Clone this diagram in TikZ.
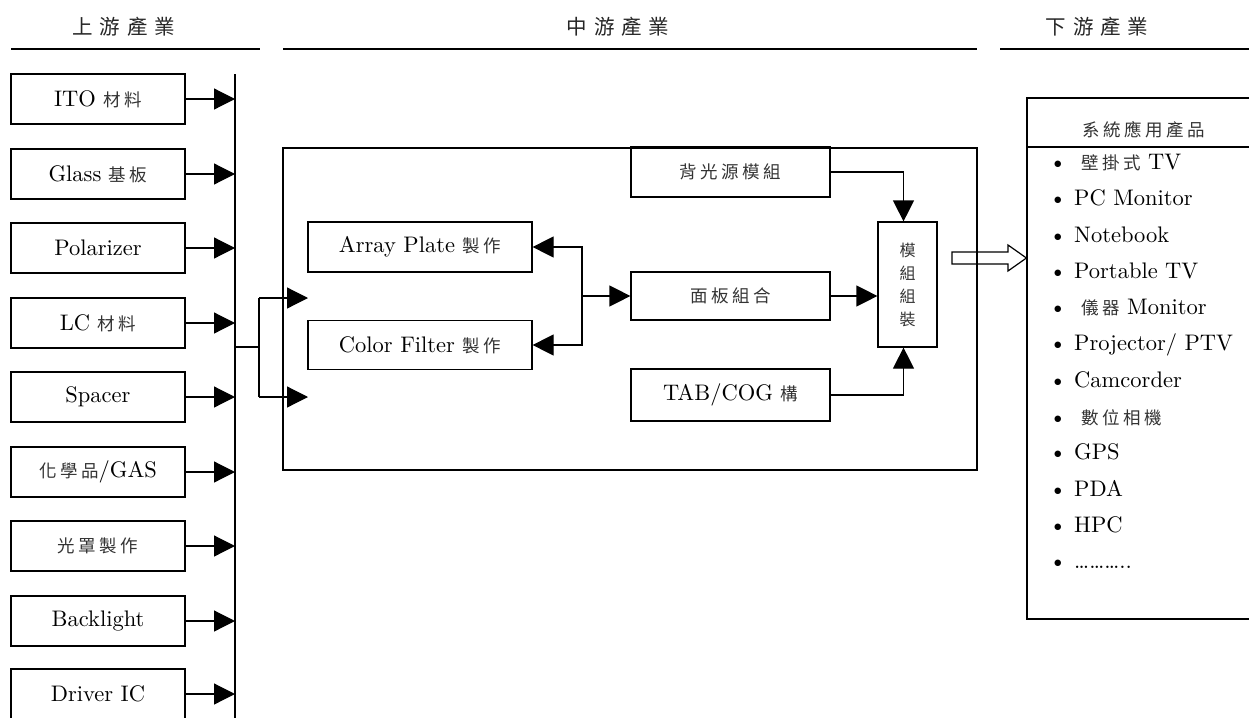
\documentclass[tikz,border=0pt]{standalone}
\usepackage{fontspec}
\usetikzlibrary{arrows.meta}
\setmainfont{lmroman10-regular}[Extension=.otf, BoldFont=lmroman10-bold, ItalicFont=lmroman10-italic]
\newfontfamily\cjk[LetterSpace=20]{Noto Sans CJK TC}
\newfontfamily\cjkhd[LetterSpace=34]{Noto Sans CJK TC}
\newcommand{\zh}[1]{{\cjk\fontsize{17.5}{21}\selectfont\color{black!80}#1}}
\newcommand{\zhhd}[1]{{\cjkhd\fontsize{20.5}{24}\selectfont\color{black!85}#1}}
\tikzset{
  base/.style={line width=1.2pt},
  box/.style={base, draw, inner sep=0pt, align=center,
    font=\fontsize{22.5}{26}\selectfont},
  lbox/.style={box, minimum width=174pt, minimum height=50pt},
  mbox/.style={box, minimum width=199pt, minimum height=50pt},
  hdr/.style={inner sep=0pt},
  item/.style={inner sep=0pt, anchor=mid west, font=\fontsize{22.5}{26}\selectfont},
  arr/.style={base, -{Triangle[length=21pt,width=21pt]}},
}
\begin{document}
\begin{tikzpicture}[x=1pt,y=-1pt]
\useasboundingbox (0,0) rectangle (1249,717);

% section headings and rules
\node[hdr] (h1) at (124,27) {\zhhd{上游產業}};
\node[hdr] (h2) at (618,27) {\zhhd{中游產業}};
\node[hdr] (h3) at (1097,27) {\zhhd{下游產業}};
\draw[base] (11,49) -- (260,49);
\draw[base] (283,49) -- (977,49);
\draw[base] (1000,49) -- (1249,49);

% upstream materials
\node[lbox] (u1) at (98,99)  {ITO \zh{材料}};
\node[lbox] (u2) at (98,174) {Glass \zh{基板}};
\node[lbox] (u3) at (98,248) {Polarizer};
\node[lbox] (u4) at (98,323) {LC \zh{材料}};
\node[lbox] (u5) at (98,397) {Spacer};
\node[lbox] (u6) at (98,472) {\zh{化學品}/GAS};
\node[lbox] (u7) at (98,546) {\zh{光罩製作}};
\node[lbox] (u8) at (98,621) {Backlight};
\node[lbox] (u9) at (98,694) {Driver IC};

% collecting bus
\coordinate (bt) at (235,74);
\coordinate (bb) at (235,720);
\draw[base] (bt) -- (bb);
\foreach \i in {1,...,9} {
  \draw[arr] (u\i.east) -- (u\i.east -| bt);
}

% midstream frame
\node[box, minimum width=694pt, minimum height=322pt] (mid) at (630,309) {};

% split from the bus into the frame
\coordinate (j0) at (235,347);
\coordinate (j1) at (259,298);
\coordinate (j2) at (259,397);
\coordinate (t1) at (308,298);
\coordinate (t2) at (308,397);
\draw[base] (j0) -- (j0 -| j1);
\draw[base] (j1) -- (j2);
\draw[arr] (j1) -- (t1);
\draw[arr] (j2) -- (t2);

% midstream processes
\node[box, minimum width=224pt, minimum height=50pt] (ap) at (420,247) {Array Plate \zh{製作}};
\node[box, minimum width=224pt, minimum height=49pt] (cf) at (420,345) {Color Filter \zh{製作}};
\node[mbox] (bl) at (730.5,172) {\zh{背光源模組}};
\node[mbox, minimum height=48pt] (pn) at (730.5,296) {\zh{面板組合}};
\node[mbox, minimum height=52pt] (tab) at (730.5,395) {TAB/COG \zh{構}};
\node[box, minimum width=59pt, minimum height=125pt,
      font=\cjk\fontsize{16}{23}\selectfont\color{black!80}] (mz) at (907.5,284.5) {模\\組\\組\\裝};

\coordinate (jn) at (582,296);
\draw[arr] (jn) |- (ap.east);
\draw[arr] (jn) |- (cf.east);
\draw[arr] (jn) -- (pn.west);
\draw[arr] (bl.east) -| ([xshift=-4pt]mz.north);
\draw[arr] (pn.east) -- (pn.east -| mz.west);
\draw[arr] (tab.east) -| ([xshift=-4pt]mz.south);

% downstream applications
\node[box, minimum width=236pt, minimum height=521pt] (sys) at (1145,358.5) {};
\draw[base] (sys.west |- 0,147) -- (sys.east |- 0,147);
\node[hdr] (sysh) at (1144,130) {\zh{系統應用產品}};

% hollow block arrow into the applications box
\draw[base, line join=miter] (952,252) -- (1008,252) -- (1008,245) -- (sys.west |- 0,258)
  -- (1008,271) -- (1008,264) -- (952,264) -- cycle;

\node[item] (l1)  at (1049,167) {\textbullet\ \hspace{7pt}\zh{壁掛式} TV};
\node[item] (l2)  at (1049,203) {\textbullet\ PC Monitor};
\node[item] (l3)  at (1049,240) {\textbullet\ Notebook};
\node[item] (l4)  at (1049,276) {\textbullet\ Portable TV};
\node[item] (l5)  at (1049,312) {\textbullet\ \hspace{7pt}\zh{儀器} Monitor};
\node[item] (l6)  at (1049,348) {\textbullet\ Projector/ PTV};
\node[item] (l7)  at (1049,385) {\textbullet\ Camcorder};
\node[item] (l8)  at (1049,422) {\textbullet\ \hspace{7pt}\zh{數位相機}};
\node[item] (l9)  at (1049,457) {\textbullet\ GPS};
\node[item] (l10) at (1049,494) {\textbullet\ PDA};
\node[item] (l11) at (1049,530) {\textbullet\ HPC};
\node[item] (l12) at (1049,566) {\textbullet\ \ldots\ldots\ldots..};
\end{tikzpicture}
\end{document}
